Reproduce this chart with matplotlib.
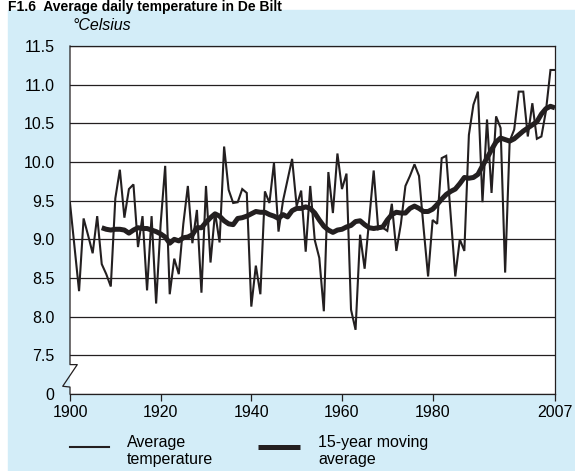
import numpy as np
import matplotlib.pyplot as plt
from matplotlib.patches import Rectangle
from matplotlib.lines import Line2D

plt.rcParams['font.family'] = ['Liberation Sans', 'DejaVu Sans']

# annual mean temperature, De Bilt
years = np.arange(1900, 2008)
avg_temp = [
    9.47, 8.90, 8.33, 9.27, 9.05, 8.82, 9.30, 8.68, 8.55, 8.39,   # 1900s
    9.53, 9.90, 9.28, 9.65, 9.71, 8.90, 9.30, 8.34, 9.30, 8.17,   # 1910s
    9.20, 9.95, 8.29, 8.75, 8.55, 9.20, 9.69, 8.95, 9.38, 8.31,   # 1920s
    9.69, 8.70, 9.35, 8.96, 10.20, 9.64, 9.47, 9.48, 9.65, 9.60,  # 1930s
    8.13, 8.66, 8.29, 9.62, 9.47, 9.99, 9.10, 9.50, 9.77, 10.04,  # 1940s
    9.43, 9.63, 8.84, 9.69, 8.99, 8.76, 8.07, 9.87, 9.34, 10.11,  # 1950s
    9.65, 9.85, 8.09, 7.83, 9.06, 8.62, 9.25, 9.89, 9.13, 9.15,   # 1960s
    9.11, 9.46, 8.85, 9.20, 9.69, 9.82, 9.97, 9.82, 9.15, 8.52,   # 1970s
    9.25, 9.20, 10.05, 10.08, 9.30, 8.52, 9.00, 8.85, 10.35, 10.74,  # 1980s
    10.91, 9.48, 10.55, 9.60, 10.59, 10.44, 8.57, 10.27, 10.42, 10.91,  # 1990s
    10.91, 10.33, 10.76, 10.30, 10.33, 10.66, 11.19, 11.19,       # 2000s
]

# 15-year moving average
ma_years = np.arange(1907, 2008)
ma_temp = [
    9.15, 9.13, 9.12,
    9.13, 9.13, 9.12, 9.08, 9.12, 9.15, 9.14, 9.14, 9.12, 9.10,
    9.07, 9.03, 8.95, 9.00, 8.98, 9.02, 9.03, 9.06, 9.15, 9.15,
    9.22, 9.28, 9.33, 9.30, 9.24, 9.20, 9.19, 9.27, 9.28, 9.30,
    9.33, 9.36, 9.35, 9.35, 9.32, 9.30, 9.27, 9.32, 9.29, 9.37,
    9.40, 9.40, 9.42, 9.40, 9.34, 9.25, 9.17, 9.12, 9.09, 9.12,
    9.13, 9.16, 9.18, 9.23, 9.24, 9.19, 9.15, 9.14, 9.15, 9.16,
    9.25, 9.32, 9.35, 9.34, 9.34, 9.40, 9.43, 9.40, 9.36, 9.36,
    9.39, 9.45, 9.52, 9.58, 9.62, 9.65, 9.72, 9.80, 9.79, 9.80,
    9.84, 9.95, 10.05, 10.16, 10.26, 10.31, 10.29, 10.27, 10.30, 10.35,
    10.40, 10.44, 10.48, 10.52, 10.62, 10.69, 10.72, 10.70,
]

y_ticks = [7.0, 7.5, 8.0, 8.5, 9.0, 9.5, 10.0, 10.5, 11.0, 11.5]
y_labels = ['0', '7.5', '8.0', '8.5', '9.0', '9.5', '10.0', '10.5', '11.0', '11.5']
x_ticks = [1900, 1920, 1940, 1960, 1980, 2007]

ink = '#231f20'
panel = '#d3edf8'

W, H = 575, 471
fig = plt.figure(figsize=(W / 100, H / 100), dpi=100, facecolor='white')
fig.patches.append(Rectangle((8 / W, 0), 1 - 8 / W, 1 - 10 / H,
                             transform=fig.transFigure, color=panel, zorder=0))

ax = fig.add_axes([70 / W, 1 - 394 / H, 485 / W, 348 / H])
ax.set_zorder(2)
ax.set_facecolor('white')

ax.plot(years, avg_temp, color=ink, lw=1.5, solid_joinstyle='miter', zorder=3)
ax.plot(ma_years, ma_temp, color=ink, lw=3.6, solid_capstyle='butt', zorder=4)

ax.set_xlim(1900, 2007)
ax.set_ylim(7.0, 11.5)
ax.set_yticks(y_ticks)
ax.set_yticklabels(y_labels)
ax.set_xticks(x_ticks)
ax.yaxis.grid(True, color=ink, lw=0.9)
ax.set_axisbelow(True)

ax.tick_params(axis='y', length=0, pad=11, labelsize=11.5, colors='black')
ax.tick_params(axis='x', length=5, width=0.9, pad=3, labelsize=11.5,
               color=ink, colors='black')

for side in ['top', 'right', 'bottom']:
    ax.spines[side].set_color(ink)
    ax.spines[side].set_linewidth(0.9)
ax.spines['left'].set_visible(False)

# left spine with axis break between 0 and 7.5
tr = ax.get_yaxis_transform()
ax.plot([0, 0, 0.015, -0.015, 0, 0], [11.5, 7.38, 7.38, 7.10, 7.09, 7.0],
        color=ink, lw=0.9, transform=tr, clip_on=False, zorder=5)

fig.text(72 / W, 1 - 26 / H, '°Celsius', style='italic', fontsize=11.5,
         va='center', ha='left')
fig.text(8 / W, 1 - 11 / H, 'F1.6  Average daily temperature in De Bilt',
         fontweight='bold', fontsize=10, va='baseline', ha='left', zorder=3)

# legend
ly = 1 - 447 / H
fig.add_artist(Line2D([70 / W, 109 / W], [ly, ly], color=ink, lw=1.5))
fig.text(127 / W, 1 - 451 / H, 'Average\ntemperature', fontsize=11.5,
         va='center', ha='left', linespacing=1.1)
fig.add_artist(Line2D([258 / W, 300 / W], [ly, ly], color=ink, lw=3.6,
                      solid_capstyle='butt'))
fig.text(318 / W, 1 - 451 / H, '15-year moving\naverage', fontsize=11.5,
         va='center', ha='left', linespacing=1.1)

fig.savefig('out.png', dpi=100)
